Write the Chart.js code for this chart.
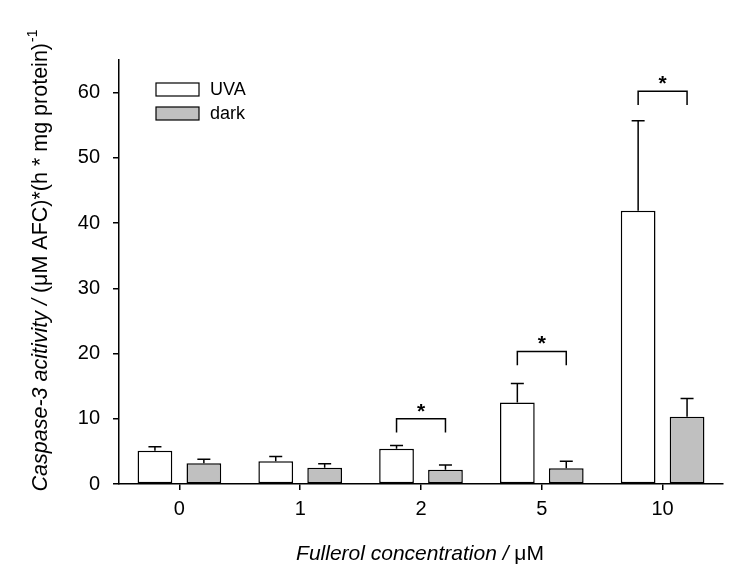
<!DOCTYPE html>
<html>
<head>
<meta charset="utf-8">
<script src="https://cdn.jsdelivr.net/npm/chart.js@4.4.1/dist/chart.umd.min.js"></script>
<style>
  body { margin: 0; background: #fff; }
  canvas { display: block; }
</style>
</head>
<body>
<canvas id="chart" width="750" height="578"></canvas>
<script>
// values
const concentrations = ['0', '1', '2', '5', '10']
const uvaValues = [5.1, 3.5, 5.4, 12.5, 41.9]
const uvaErrors = [0.6, 0.7, 0.5, 2.9, 13.8]
const darkValues = [3.2, 2.5, 2.2, 2.4, 10.3]
const darkErrors = [0.6, 0.6, 0.7, 1.1, 2.8]
// significance brackets: category index, bracket top value
const sigCategories = [2, 3, 4]
const sigHeights = [10.0, 20.3, 60.2]

const FONT = '"Liberation Sans", Arial, sans-serif'

const errorBars = {
    id: 'errorBars',
    afterDatasetsDraw(chart) {
        const ctx = chart.ctx
        const y = chart.scales.y
        const errs = [uvaErrors, darkErrors]
        const vals = [uvaValues, darkValues]
        ctx.save()
        ctx.strokeStyle = '#000'
        ctx.lineWidth = 1.5
        for (let d = 0; d < 2; d++) {
            const meta = chart.getDatasetMeta(d)
            meta.data.forEach((bar, i) => {
                const top = y.getPixelForValue(vals[d][i] + errs[d][i])
                ctx.beginPath()
                ctx.moveTo(bar.x, bar.y)
                ctx.lineTo(bar.x, top)
                ctx.moveTo(bar.x - 6.5, top)
                ctx.lineTo(bar.x + 6.5, top)
                ctx.stroke()
            })
        }
        // brackets with asterisks
        sigCategories.forEach((c, k) => {
            const x1 = chart.getDatasetMeta(0).data[c].x
            const x2 = chart.getDatasetMeta(1).data[c].x
            const yt = y.getPixelForValue(sigHeights[k])
            const yb = y.getPixelForValue(sigHeights[k] - 2.1)
            ctx.beginPath()
            ctx.moveTo(x1, yb)
            ctx.lineTo(x1, yt)
            ctx.lineTo(x2, yt)
            ctx.lineTo(x2, yb)
            ctx.stroke()
            ctx.fillStyle = '#000'
            ctx.font = 'bold 21px ' + FONT
            ctx.textAlign = 'center'
            ctx.textBaseline = 'middle'
            ctx.fillText('*', (x1 + x2) / 2, yt - 7)
        })
        ctx.restore()
    },
    afterDraw(chart) {
        const ctx = chart.ctx
        ctx.save()
        // legend inside the plot
        chart.data.datasets.forEach((ds, i) => {
            const top = 83 + i * 24
            ctx.fillStyle = ds.backgroundColor
            ctx.fillRect(156, top, 43, 13)
            ctx.strokeStyle = '#000'
            ctx.lineWidth = 1.2
            ctx.strokeRect(156, top, 43, 13)
            ctx.fillStyle = '#000'
            ctx.font = '18px ' + FONT
            ctx.textAlign = 'left'
            ctx.textBaseline = 'middle'
            ctx.fillText(ds.label, 210, top + 7)
        })

        // y title, mixed italic / upright
        const ya = 'italic 21.5px ' + FONT, yb = '21.5px ' + FONT, ys = '14px ' + FONT
        const p1 = 'Caspase-3 acitivity / ', p2 = '(\u03bcM AFC)*(h * mg protein)', p3 = '-1'
        ctx.font = ya; const w1 = ctx.measureText(p1).width
        ctx.font = yb; const w2 = ctx.measureText(p2).width
        ctx.font = ys; const w3 = ctx.measureText(p3).width
        ctx.translate(47, 261)
        ctx.rotate(-Math.PI / 2)
        ctx.textAlign = 'left'
        ctx.textBaseline = 'alphabetic'
        let x = -(w1 + w2 + w3) / 2
        ctx.font = ya; ctx.fillText(p1, x, 0); x += w1
        ctx.font = yb; ctx.fillText(p2, x, 0); x += w2
        ctx.font = ys; ctx.fillText(p3, x + 1, -10)
        ctx.setTransform(1, 0, 0, 1, 0, 0)

        // x title
        const q1 = 'Fullerol concentration / ', q2 = '\u03bcM'
        ctx.font = 'italic 21px ' + FONT; const v1 = ctx.measureText(q1).width
        ctx.font = '21px ' + FONT; const v2 = ctx.measureText(q2).width
        let xx = 420 - (v1 + v2) / 2
        ctx.font = 'italic 21px ' + FONT; ctx.fillText(q1, xx, 560)
        ctx.font = '21px ' + FONT; ctx.fillText(q2, xx + v1, 560)
        ctx.restore()
    }
}

new Chart(document.getElementById('chart'), {
    type: 'bar',
    data: {
        labels: concentrations,
        datasets: [
            {
                label: 'UVA',
                data: uvaValues,
                backgroundColor: '#ffffff',
                borderColor: '#000',
                borderWidth: 1.5,
                borderSkipped: false,
            },
            {
                label: 'dark',
                data: darkValues,
                backgroundColor: '#c0c0c0',
                borderColor: '#000',
                borderWidth: 1.5,
                borderSkipped: false,
            }
        ]
    },
    options: {
        responsive: false,
        animation: false,
        devicePixelRatio: 1,
        categoryPercentage: 0.81,
        barPercentage: 0.71,
        layout: { padding: { left: 0, top: 60, right: 27, bottom: 0 } },
        plugins: {
            legend: { display: false },
            tooltip: { enabled: false },
        },
        scales: {
            x: {
                afterFit(s) { s.height = 94 },
                grid: { offset: false, drawOnChartArea: false, tickLength: 6, color: '#000', lineWidth: 1.5 },
                border: { color: '#000', width: 1.5 },
                ticks: { color: '#000', font: { family: FONT, size: 20 }, padding: 7 },
            },
            y: {
                min: 0,
                max: 65,
                afterFit(s) { s.width = 119 },
                afterBuildTicks(s) { s.ticks = s.ticks.filter(t => t.value % 10 === 0) },
                grid: { drawOnChartArea: false, tickLength: 6, color: '#000', lineWidth: 1.5 },
                border: { color: '#000', width: 1.5 },
                ticks: { stepSize: 10, color: '#000', font: { family: FONT, size: 20 }, padding: 13 },
            }
        }
    },
    plugins: [errorBars]
})
</script>
</body>
</html>
